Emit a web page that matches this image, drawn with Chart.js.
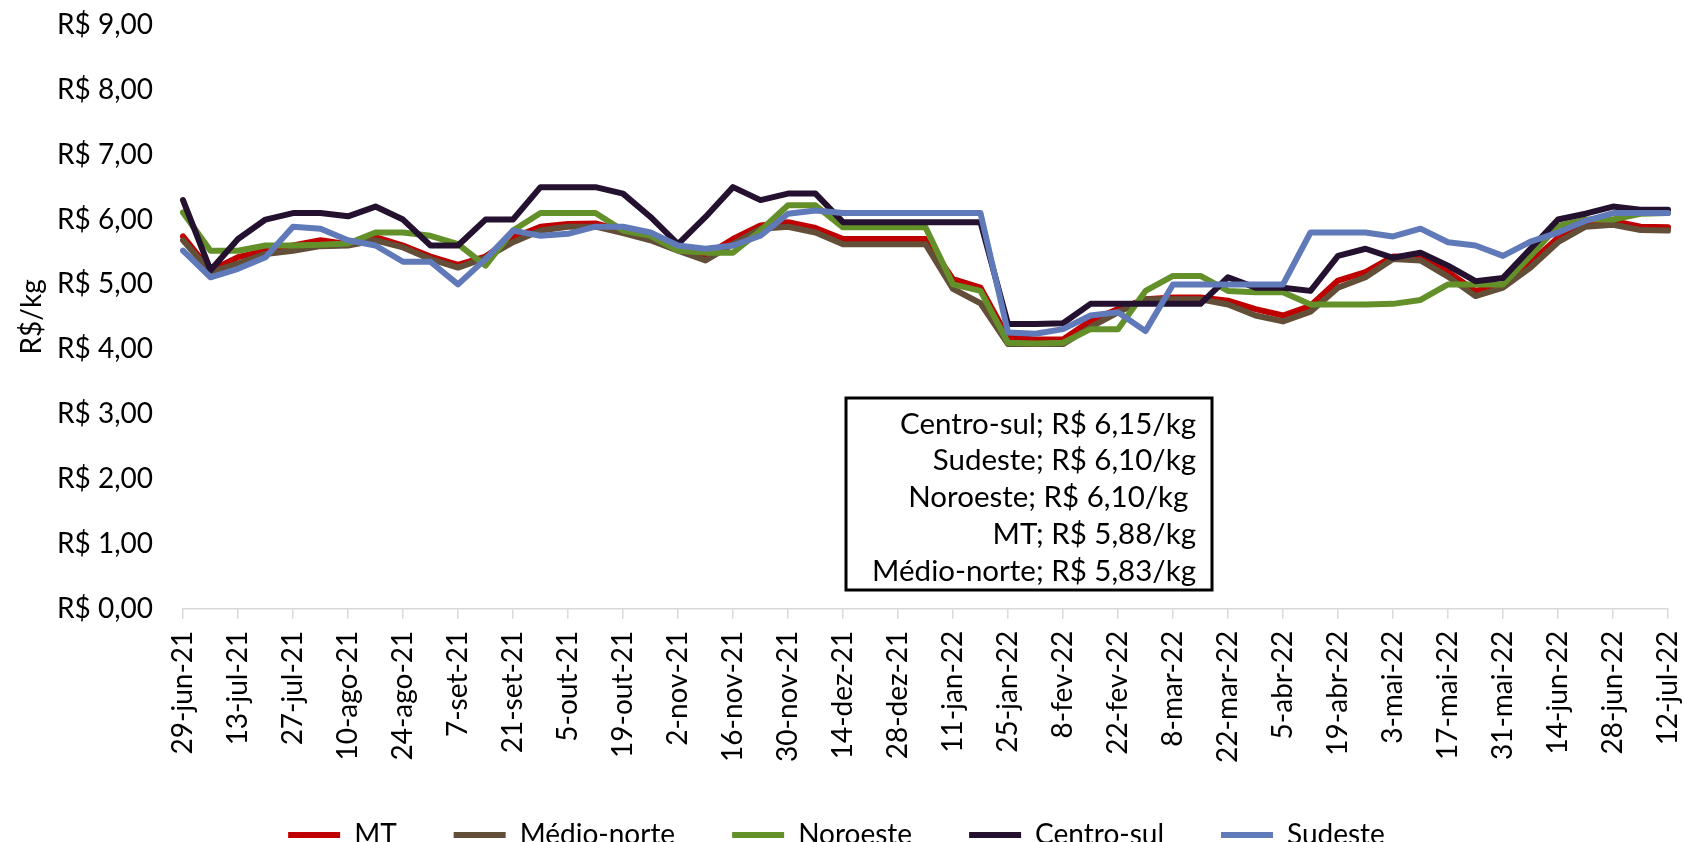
<!DOCTYPE html>
<html>
<head>
<meta charset="utf-8">
<script src="https://cdn.jsdelivr.net/npm/chart.js@4"></script>
<style>
    body { margin: 0; background: #fff; overflow: hidden; }
    #wrap { width: 1684px; height: 870px; }
</style>
</head>
<body>
<div id="wrap"><canvas id="chart" width="1684" height="870"></canvas></div>
<script>
// weekly dates (only every other one is shown on the axis)
const weeks = [
    "29-jun-21", "6-jul-21", "13-jul-21", "20-jul-21", "27-jul-21", "3-ago-21", "10-ago-21",
    "17-ago-21", "24-ago-21", "31-ago-21", "7-set-21", "14-set-21", "21-set-21", "28-set-21",
    "5-out-21", "12-out-21", "19-out-21", "26-out-21", "2-nov-21", "9-nov-21", "16-nov-21",
    "23-nov-21", "30-nov-21", "7-dez-21", "14-dez-21", "21-dez-21", "28-dez-21", "4-jan-22",
    "11-jan-22", "18-jan-22", "25-jan-22", "1-fev-22", "8-fev-22", "15-fev-22", "22-fev-22",
    "1-mar-22", "8-mar-22", "15-mar-22", "22-mar-22", "29-mar-22", "5-abr-22", "12-abr-22",
    "19-abr-22", "26-abr-22", "3-mai-22", "10-mai-22", "17-mai-22", "24-mai-22", "31-mai-22",
    "7-jun-22", "14-jun-22", "21-jun-22", "28-jun-22", "5-jul-22", "12-jul-22"
];

const mt = [
    5.74, 5.21, 5.42, 5.52, 5.60, 5.68, 5.62, 5.73, 5.60, 5.43, 5.30, 5.43, 5.72, 5.89,
    5.93, 5.94, 5.83, 5.72, 5.57, 5.44, 5.70, 5.91, 5.96, 5.87, 5.70, 5.70, 5.70, 5.70,
    5.08, 4.95, 4.18, 4.15, 4.15, 4.44, 4.62, 4.77, 4.80, 4.80, 4.75, 4.62, 4.52, 4.67,
    5.06, 5.19, 5.43, 5.42, 5.19, 4.90, 5.00, 5.34, 5.72, 5.93, 5.98, 5.89, 5.88
];
const medioNorte = [
    5.68, 5.19, 5.32, 5.47, 5.52, 5.59, 5.60, 5.68, 5.57, 5.39, 5.26, 5.41, 5.65, 5.83,
    5.89, 5.89, 5.79, 5.68, 5.52, 5.37, 5.62, 5.86, 5.89, 5.80, 5.62, 5.62, 5.62, 5.62,
    4.93, 4.71, 4.08, 4.08, 4.08, 4.34, 4.57, 4.77, 4.77, 4.77, 4.69, 4.52, 4.43, 4.58,
    4.95, 5.11, 5.39, 5.37, 5.12, 4.82, 4.95, 5.26, 5.65, 5.89, 5.92, 5.84, 5.83
];
const noroeste = [
    6.11, 5.52, 5.52, 5.60, 5.60, 5.61, 5.63, 5.80, 5.80, 5.75, 5.62, 5.29, 5.83, 6.10,
    6.10, 6.10, 5.83, 5.75, 5.52, 5.49, 5.49, 5.83, 6.22, 6.22, 5.88, 5.88, 5.88, 5.88,
    5.00, 4.90, 4.10, 4.09, 4.10, 4.31, 4.31, 4.90, 5.13, 5.13, 4.90, 4.88, 4.88, 4.69,
    4.69, 4.69, 4.70, 4.76, 5.00, 5.00, 5.00, 5.44, 5.90, 6.00, 6.00, 6.09, 6.10
];
const centroSul = [
    6.30, 5.22, 5.70, 6.00, 6.10, 6.10, 6.05, 6.20, 6.00, 5.60, 5.60, 6.00, 6.00, 6.50,
    6.50, 6.50, 6.40, 6.04, 5.62, 6.04, 6.50, 6.30, 6.40, 6.40, 5.96, 5.96, 5.96, 5.96,
    5.96, 5.96, 4.39, 4.39, 4.40, 4.70, 4.70, 4.70, 4.70, 4.70, 5.11, 4.95, 4.95, 4.90,
    5.44, 5.55, 5.41, 5.49, 5.29, 5.05, 5.10, 5.55, 6.00, 6.09, 6.20, 6.15, 6.15
];
const sudeste = [
    5.52, 5.11, 5.24, 5.42, 5.89, 5.86, 5.68, 5.60, 5.35, 5.35, 5.00, 5.39, 5.83, 5.75,
    5.78, 5.89, 5.89, 5.80, 5.60, 5.55, 5.60, 5.75, 6.09, 6.14, 6.10, 6.10, 6.10, 6.10,
    6.10, 6.10, 4.26, 4.24, 4.31, 4.52, 4.57, 4.28, 5.00, 5.00, 5.00, 5.00, 5.00, 5.80,
    5.80, 5.80, 5.74, 5.86, 5.65, 5.60, 5.44, 5.66, 5.80, 5.98, 6.10, 6.10, 6.10
];

const seriesNames = ["MT", "Médio-norte", "Noroeste", "Centro-sul", "Sudeste"];
const seriesColors = ["#c00000", "#634e38", "#64902a", "#23112f", "#6079b9"];

const lastPrices = [
    "Centro-sul; R$ 6,15/kg",
    "Sudeste; R$ 6,10/kg",
    "Noroeste; R$ 6,10/kg ",
    "MT; R$ 5,88/kg",
    "Médio-norte; R$ 5,83/kg"
];

const FONT = "Lato";

function brl(v) {
    return "R$ " + v.toFixed(2).replace(".", ",");
}

// text box with the latest prices
const priceBox = {
    id: "priceBox",
    afterDraw(chart) {
        const ctx = chart.ctx;
        ctx.save();
        ctx.fillStyle = "#fff";
        ctx.fillRect(846, 398, 366, 192);
        ctx.lineWidth = 3;
        ctx.strokeStyle = "#000";
        ctx.strokeRect(846, 398, 366, 192);
        ctx.fillStyle = "#000";
        ctx.font = "29.5px " + FONT;
        ctx.textAlign = "right";
        ctx.textBaseline = "middle";
        lastPrices.forEach((t, i) => {
            ctx.fillText(t, 1196, 424 + i * 36.8);
        });
        ctx.restore();
    }
};

// wide legend spacing makes the legend tall, pull it back up a little
const legendLift = {
    id: "legendLift",
    afterLayout(chart) {
        if (chart.legend) {
            chart.legend.top -= 11;
            chart.legend.bottom -= 11;
        }
    }
};

const allSeries = [mt, medioNorte, noroeste, centroSul, sudeste];

const ctx = document.getElementById("chart").getContext("2d");
new Chart(ctx, {
    type: "line",
    data: {
        labels: weeks,
        datasets: allSeries.map((vals, i) => ({
            label: seriesNames[i],
            data: vals,
            borderColor: seriesColors[i],
            backgroundColor: seriesColors[i],
            borderWidth: 6,
            borderCapStyle: "round",
            borderJoinStyle: "round",
            pointRadius: 0,
            tension: 0,
            order: allSeries.length - i
        }))
    },
    options: {
        responsive: false,
        animation: false,
        layout: {
            padding: { top: 25, left: 5, right: 16, bottom: 0 }
        },
        plugins: {
            tooltip: { enabled: false },
            legend: {
                position: "bottom",
                labels: {
                    font: { family: FONT, size: 28 },
                    color: "#000",
                    usePointStyle: true,
                    pointStyle: "line",
                    pointStyleWidth: 52,
                    padding: 57,
                    sort: (a, b) => a.datasetIndex - b.datasetIndex
                }
            }
        },
        scales: {
            x: {
                afterFit: (scale) => {
                    scale.paddingLeft = 0;
                    scale.paddingRight = 0;
                },
                grid: {
                    display: true,
                    drawOnChartArea: false,
                    drawTicks: true,
                    tickLength: 10,
                    color: "#d9d9d9",
                    lineWidth: 1.5
                },
                border: { display: true, color: "#d9d9d9", width: 1.5 },
                ticks: {
                    autoSkip: false,
                    minRotation: 90,
                    maxRotation: 90,
                    padding: 12,
                    color: "#000",
                    font: { family: FONT, size: 28 },
                    callback: function (value, index) {
                        return index % 2 === 0 ? this.getLabelForValue(value) : null;
                    }
                }
            },
            y: {
                min: 0,
                max: 9,
                afterFit: (scale) => {
                    scale.width = 178;
                    scale.paddingTop = 0;
                    scale.paddingBottom = 0;
                },
                grid: { display: false, drawTicks: false },
                border: { display: false },
                ticks: {
                    stepSize: 1,
                    padding: 30,
                    color: "#000",
                    font: { family: FONT, size: 28 },
                    callback: (v) => brl(v)
                },
                title: {
                    display: true,
                    text: "R$/kg",
                    color: "#000",
                    font: { family: FONT, size: 28 },
                    padding: { top: 10, bottom: 8 }
                }
            }
        }
    },
    plugins: [priceBox, legendLift]
});
</script>
</body>
</html>
